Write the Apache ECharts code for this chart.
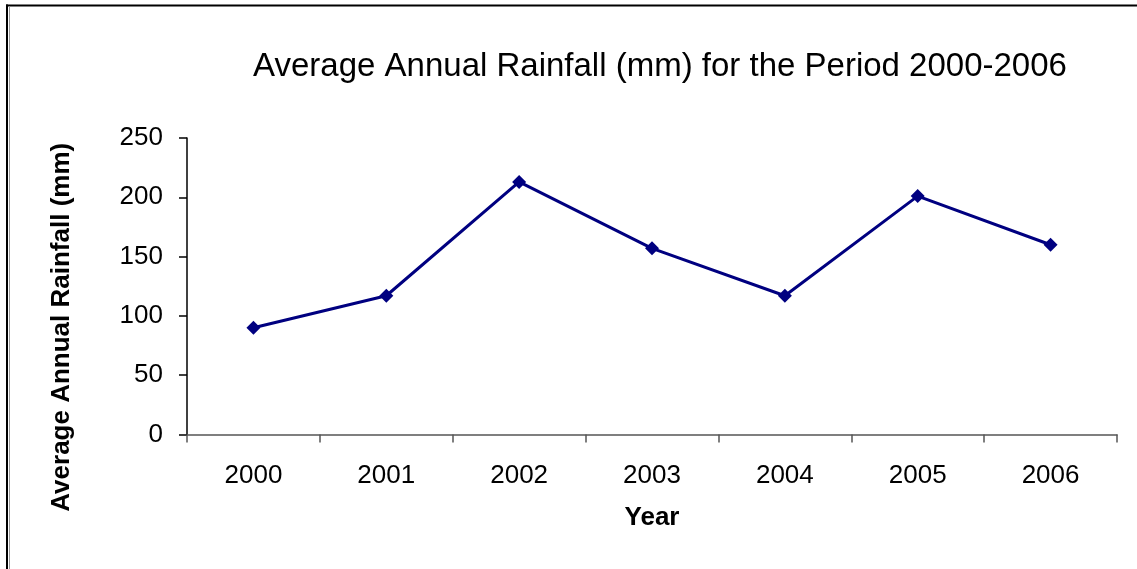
<!DOCTYPE html>
<html>
<head>
<meta charset="utf-8">
<style>
  html, body { margin: 0; padding: 0; background: #fff; }
  #chart { width: 1137px; height: 569px; }
</style>
<script src="https://cdn.jsdelivr.net/npm/echarts@6/dist/echarts.min.js"></script>
</head>
<body>
<div id="chart"></div>
<script>
// Average annual rainfall by year
const years = ['2000', '2001', '2002', '2003', '2004', '2005', '2006'];
const rainfall = [90, 117, 213, 157, 117, 201, 160];
const yTicks = [0, 50, 100, 150, 200, 250];

const chart = echarts.init(document.getElementById('chart'), null, { renderer: 'canvas' });
const font = '"Liberation Sans", Arial, sans-serif';

chart.setOption({
  backgroundColor: '#ffffff',
  animation: false,
  title: {
    text: 'Average Annual Rainfall (mm) for the Period 2000-2006',
    left: 655,
    top: 45,
    textAlign: 'center',
    textStyle: { fontFamily: font, fontSize: 33, fontWeight: 'normal', color: '#000' }
  },
  graphic: [
    // frame: heavy top and left rules with a thin grey inner rule
    { type: 'rect', shape: { x: 6, y: 4.5, width: 1131, height: 2 }, style: { fill: '#000' } },
    { type: 'rect', shape: { x: 6, y: 4.5, width: 2, height: 565 }, style: { fill: '#000' } },
    { type: 'rect', shape: { x: 9, y: 6.5, width: 1, height: 563 }, style: { fill: '#9a9a9a' } }
  ],
  grid: { left: 187, right: 20, top: 138, bottom: 134.5 },
  xAxis: {
    type: 'category',
    data: years,
    boundaryGap: true,
    name: 'Year',
    nameLocation: 'middle',
    nameGap: 70,
    nameTextStyle: { fontFamily: font, fontSize: 26, fontWeight: 'bold', color: '#000' },
    axisLine: { lineStyle: { color: '#555', width: 1.5 } },
    axisTick: { show: true, inside: false, length: 8, alignWithLabel: false, lineStyle: { color: '#555', width: 1.5 } },
    axisLabel: { fontFamily: font, fontSize: 26, color: '#000', margin: 28 },
    splitLine: { show: false }
  },
  yAxis: {
    type: 'value',
    min: yTicks[0],
    max: yTicks[yTicks.length - 1],
    interval: yTicks[1] - yTicks[0],
    name: 'Average Annual Rainfall (mm)',
    nameLocation: 'middle',
    nameGap: 112,
    nameRotate: 90,
    nameTextStyle: { fontFamily: font, fontSize: 26, fontWeight: 'bold', color: '#000', padding: [0, 82, 0, 0] },
    axisLine: { show: true, lineStyle: { color: '#000', width: 1.5 } },
    axisTick: { show: true, inside: false, length: 8, lineStyle: { color: '#000', width: 1.5 } },
    axisLabel: { fontFamily: font, fontSize: 26, color: '#000', margin: 24 },
    splitLine: { show: false }
  },
  series: [{
    type: 'line',
    data: rainfall,
    symbol: 'diamond',
    symbolSize: 14,
    itemStyle: { color: '#000080' },
    lineStyle: { color: '#000080', width: 3 },
    label: { show: false }
  }]
});
</script>
</body>
</html>
